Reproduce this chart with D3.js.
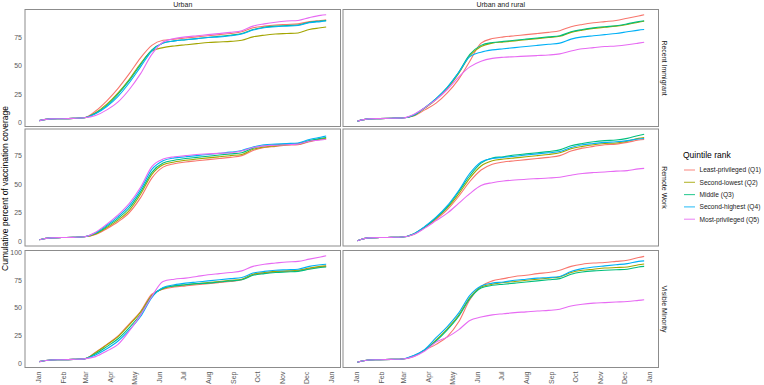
<!DOCTYPE html>
<html>
<head>
<meta charset="utf-8">
<script src="https://cdn.jsdelivr.net/npm/d3@7"></script>
<style>
	body { margin: 0; background: #fff; }
	text { font-family: "Liberation Sans", Arial, sans-serif; }
</style>
</head>
<body>
<div id="plot"></div>
<script>

// Sample dates (biweekly, 2021)
var dates = ["2021-01-03","2021-01-17","2021-01-31","2021-02-14","2021-02-28","2021-03-14","2021-03-28",
	"2021-04-11","2021-04-25","2021-05-09","2021-05-23","2021-06-06","2021-06-20","2021-07-04","2021-07-18",
	"2021-08-01","2021-08-15","2021-08-29","2021-09-12","2021-09-26","2021-10-10","2021-10-24","2021-11-07",
	"2021-11-21","2021-12-05","2021-12-19","2021-12-26"];

var quintiles = ["Least-privileged (Q1)", "Second-lowest (Q2)", "Middle (Q3)", "Second-highest (Q4)", "Most-privileged (Q5)"];
var areas = ["Urban", "Urban and rural"];
var indicators = ["Recent Immigrant", "Remote Work", "Visible Minority"];
var yTicks = [0, 25, 50, 75, 100];
var monthTicks = ["2021-01-01","2021-02-01","2021-03-01","2021-04-01","2021-05-01","2021-06-01","2021-07-01",
	"2021-08-01","2021-09-01","2021-10-01","2021-11-01","2021-12-01","2022-01-01"];

// Cumulative coverage, one row per quintile (Q1..Q5)
var urbanImmigrant = [
	[1.5,3,3.2,3.5,4,10,19,30,43,57,68,72.5,73.5,74.5,75.5,76.5,77.5,78.5,80,83.5,85,86,86.5,87,89,90,90.5],
	[1.5,3,3.2,3.5,4,8.5,16,26,38,52,63,66,67.5,68.5,69.5,70.5,71,71.5,72.5,75.5,77,78,78.5,79,82,83.5,84.3],
	[1.5,3,3.2,3.5,4,8,15,25,37,51,64,70,72,73,74,75,76,77,78.5,82,84,85,85.5,86,88.5,89.5,90],
	[1.5,3,3.2,3.5,4,7.5,14,23,35,49,63,70,72,73,74,75,75.5,76.5,78,81.5,83.5,84.5,85,85.5,88,89,89.5],
	[1.5,3,3.2,3.5,4,6,11,18,29,43,60,71,74,75.5,76.5,77.5,78.5,79.5,81,85,87,88.5,89.5,90,92.5,94.5,95]
];
var mixedImmigrant = [
	[1,3,3.3,3.6,3.8,5.5,11,17,26,38,54,70,74,75.5,76.5,77.5,78.5,79.5,81,84.5,86.5,88,89,90,92,94,95],
	[1,3,3.3,3.6,3.8,6,12.5,20,30,43,59,67,70,71,72,73,74,75,76,79.5,81.5,83,84,85,86.5,88.5,89.3],
	[1,3,3.3,3.6,3.8,6,13,21,31,44,60,68,70.5,71.5,72.5,73.5,74.5,75.5,76.5,80,82,83.5,84.5,85.3,87,89,89.7],
	[1,3,3.3,3.6,3.8,6.5,13,21,31,44,58,62,64,65,66,67,68,69,70,73.5,75.5,76.5,77.5,78.5,80,81.5,82],
	[1,3,3.3,3.6,3.8,7,13,20,29,40,49,54,56.5,57.5,58,58.5,59,59.5,60.5,63,65,66,67,67.5,68.5,70,70.8]
];
var urbanRemote = [
	[1.4,3,3.3,3.5,4,6,11,17,25,38,55,64.5,67.5,69,70,71,72,73,74.5,79,81.5,82.5,83.5,84,86.5,88.5,89],
	[1.4,3,3.3,3.5,4,6.5,12,18.5,27,41,58,66.5,69,70.5,71.5,72.5,73.5,74.5,75.5,80,82,83,84,84.5,87,89,89.5],
	[1.4,3,3.3,3.5,4,7,13,20,29,43,60,68,70.5,72,73,74,75,76,77,81,83,84,84.5,85,87.5,89.5,90.2],
	[1.4,3,3.3,3.5,4,7.5,14,21.5,31,45,62.5,70,72.5,73.5,74.5,75.5,76.5,77.5,79,82,84,84.5,85,85.5,88.5,90.5,91.5],
	[1.4,3,3.3,3.5,4,8,15,23,33,47,65,71.5,73.5,74.5,75.5,76,76.5,77,78.5,81.5,83,83.5,84,84.5,87,88,88.7]
];
var mixedRemote = [
	[0.6,3,3.3,3.5,3.8,6,12,19,27.5,39,52,62,67,69,70,71,72,73,74.5,78.5,81,82.5,84,84.5,86,88,88.5],
	[0.6,3,3.3,3.5,3.8,6.5,12.5,20,29,41,55,65.5,70,71.5,72.5,73.5,74.5,75.5,77,80.5,82.5,84,85,85.5,87,89.5,90.3],
	[0.6,3,3.3,3.5,3.8,6.5,12.5,20.5,30,43,57,68,72.5,73.5,75,76,77,78,79.5,83,85,86.5,87.5,88,89.5,92,93],
	[0.6,3,3.3,3.5,3.8,6.5,13,21,31,44,59,69,72,73,74,75,76,77,78,81.5,84,85,86,86.5,87.5,89,89.4],
	[0.6,3,3.3,3.5,3.8,6,11.5,18,24.5,33,41.5,48.5,51,52.5,53.3,54,54.5,55,55.7,57.5,59,59.8,60.3,61,61.5,63,63.4]
];
var urbanMinority = [
	[1.5,3,3.2,3.5,4,10,17,24.5,35.5,46.5,62,66.5,68.5,69.5,70.5,71.5,72.5,73.5,75,79.5,81,82,82.5,83,85,86.5,87],
	[1.5,3,3.2,3.5,4,9.5,16.5,24,34.5,46,61,67,69.5,70.5,71.5,72.5,73.5,74.5,75.5,80,81.5,82.5,83,83.5,85.5,87,87.5],
	[1.5,3,3.2,3.5,4,8.5,15,22,32,44,60,67.5,69.5,70.5,71.5,72,73,74,75,79,80.5,81.5,82,82.5,84.5,86,86.5],
	[1.5,3,3.2,3.5,4,7.5,13,20,30,42,59,68,70.5,72,73,74,75,76,77,81,82.5,83.5,84,84.5,87,88.5,89],
	[1.5,3,3.2,3.5,4,6,11,17,29,43.5,60,73.5,75.5,76.5,78,79.5,80.5,81.5,83,87,89,90,91,91.5,93.5,95.5,96.5]
];
var mixedMinority = [
	[1,3,3.2,3.5,3.8,6,12,17,24,37,57,69,74,76,78,79,80.5,81.5,83.5,87,89,90,90.5,91.5,92.5,95,96],
	[1,3,3.2,3.5,3.8,6.5,12,21,31,43,59,68.5,71,72.5,73.5,74.5,75.5,76.5,77.5,81.5,83.5,84.5,85.5,86,86.5,88.5,89.2],
	[1,3,3.2,3.5,3.8,6.5,12,20,30,42,58,67.5,70,71,72,73,74,75,76,80,82,83,83.5,84,84.5,86.5,87],
	[1,3,3.2,3.5,3.8,7,12.5,23,33,45,61,69.5,72,73,74.5,75.5,76.5,77,78,82.5,85,86.5,87.5,88.5,89.5,91.5,92],
	[1,3,3.2,3.5,3.8,6,11,19,23.5,30,38.5,41.5,43.5,44.5,45.5,46.2,47,47.5,48.5,51.5,53,54,54.5,55,55.5,56.5,57]
];

// Panels laid out row by row (indicator), column by area
var panelData = [
	[urbanImmigrant, mixedImmigrant],
	[urbanRemote, mixedRemote],
	[urbanMinority, mixedMinority]
];

var colors = ["#F8766D", "#A3A500", "#00BF7D", "#00B0F6", "#E76BF3"];

// Dimensions
var width = 764, height = 385;
var panelLeft = [25, 343], panelWidth = 315.5;
var panelTop = [9.5, 129, 250.5], panelHeight = 117;

var svg = d3.select("#plot")
	.append("svg")
	.attr("width", width)
	.attr("height", height);

var parseDate = d3.timeParse("%Y-%m-%d");
var dateObjs = dates.map(parseDate);

// X scale (shared), with ggplot style 5% expansion
var xExt = d3.extent(dateObjs);
var xPad = (xExt[1] - xExt[0]) * 0.05;
var x = d3.scaleTime()
	.domain([new Date(+xExt[0] - xPad), new Date(+xExt[1] + xPad)])
	.range([0, panelWidth]);

var color = d3.scaleOrdinal().domain(quintiles).range(colors);

panelData.forEach(function(row, r){

	// Y scale per row
	var all = [];
	row.forEach(function(p){ p.forEach(function(s){ all = all.concat(s); }); });
	var yMin = d3.min(all), yMax = d3.max(all), yPad = (yMax - yMin) * 0.05;
	var y = d3.scaleLinear()
		.domain([yMin - yPad, yMax + yPad])
		.range([panelHeight, 0]);

	row.forEach(function(series, c){
		var g = svg.append("g")
			.attr("transform", "translate(" + panelLeft[c] + "," + panelTop[r] + ")");

		var line = d3.line()
			.x(function(d, i){ return x(dateObjs[i]); })
			.y(function(d){ return y(d); })
			.curve(d3.curveMonotoneX);

		g.selectAll(".series")
			.data(series)
			.enter().append("path")
			.attr("d", line)
			.attr("fill", "none")
			.attr("stroke", function(d, i){ return color(quintiles[i]); })
			.attr("stroke-width", 1.1);

		// Panel border
		g.append("rect")
			.attr("width", panelWidth)
			.attr("height", panelHeight)
			.attr("fill", "none")
			.attr("stroke", "#8c8c8c")
			.attr("stroke-width", 1);

		// Y axis labels on the left column only
		if (c == 0) {
			var yAxis = d3.axisLeft(y)
				.tickValues(yTicks.filter(function(t){ return t >= y.domain()[0] && t <= y.domain()[1]; }))
				.tickSize(0)
				.tickPadding(3);
			var ya = g.append("g").call(yAxis);
			ya.select(".domain").remove();
			ya.selectAll("text")
				.style("font-size", "7px")
				.attr("fill", "#5a5a5a");
		}

		// X axis on the bottom row only
		if (r == panelData.length - 1) {
			var xAxis = d3.axisBottom(x)
				.tickValues(monthTicks.map(parseDate))
				.tickFormat(d3.timeFormat("%b"))
				.tickSize(0);
			var xa = g.append("g")
				.attr("transform", "translate(0," + panelHeight + ")")
				.call(xAxis);
			xa.select(".domain").remove();
			xa.selectAll("text")
				.attr("transform", "rotate(-90)")
				.attr("x", -4)
				.attr("y", 0)
				.attr("dy", "0.35em")
				.style("text-anchor", "end")
				.style("font-size", "7px")
				.attr("fill", "#5a5a5a");
		}

		// Top strip labels
		if (r == 0) {
			svg.append("text")
				.attr("x", panelLeft[c] + panelWidth / 2)
				.attr("y", 6.5)
				.style("text-anchor", "middle")
				.style("font-size", "7px")
				.attr("fill", "#1a1a1a")
				.text(areas[c]);
		}
	});

	// Right strip labels
	svg.append("text")
		.attr("transform", "translate(" + 662 + "," + (panelTop[r] + panelHeight / 2) + ") rotate(90)")
		.style("text-anchor", "middle")
		.style("font-size", "7px")
		.attr("fill", "#1a1a1a")
		.text(indicators[r]);
});

// Y axis title
svg.append("text")
	.attr("transform", "translate(" + 8 + "," + (panelTop[0] + (panelTop[2] + panelHeight - panelTop[0]) / 2) + ") rotate(-90)")
	.style("text-anchor", "middle")
	.style("font-size", "8.5px")
	.attr("fill", "#000")
	.text("Cumulative percent of vaccination coverage");

// Legend
var legend = svg.append("g")
	.attr("transform", "translate(683,0)");
legend.append("text")
	.attr("x", 0)
	.attr("y", 158)
	.style("font-size", "8.5px")
	.attr("fill", "#000")
	.text("Quintile rank");
var item = legend.selectAll(".item")
	.data(quintiles)
	.enter().append("g")
	.attr("transform", function(d, i){ return "translate(0," + (170 + i * 12.3) + ")"; });
item.append("line")
	.attr("x1", 1)
	.attr("x2", 12)
	.attr("stroke", function(d){ return color(d); })
	.attr("stroke-width", 1.1)
	.attr("stroke-opacity", 0.8);
item.append("text")
	.attr("x", 16.5)
	.attr("dy", "0.35em")
	.style("font-size", "6.6px")
	.attr("fill", "#1a1a1a")
	.text(function(d){ return d; });

</script>
</body>
</html>
